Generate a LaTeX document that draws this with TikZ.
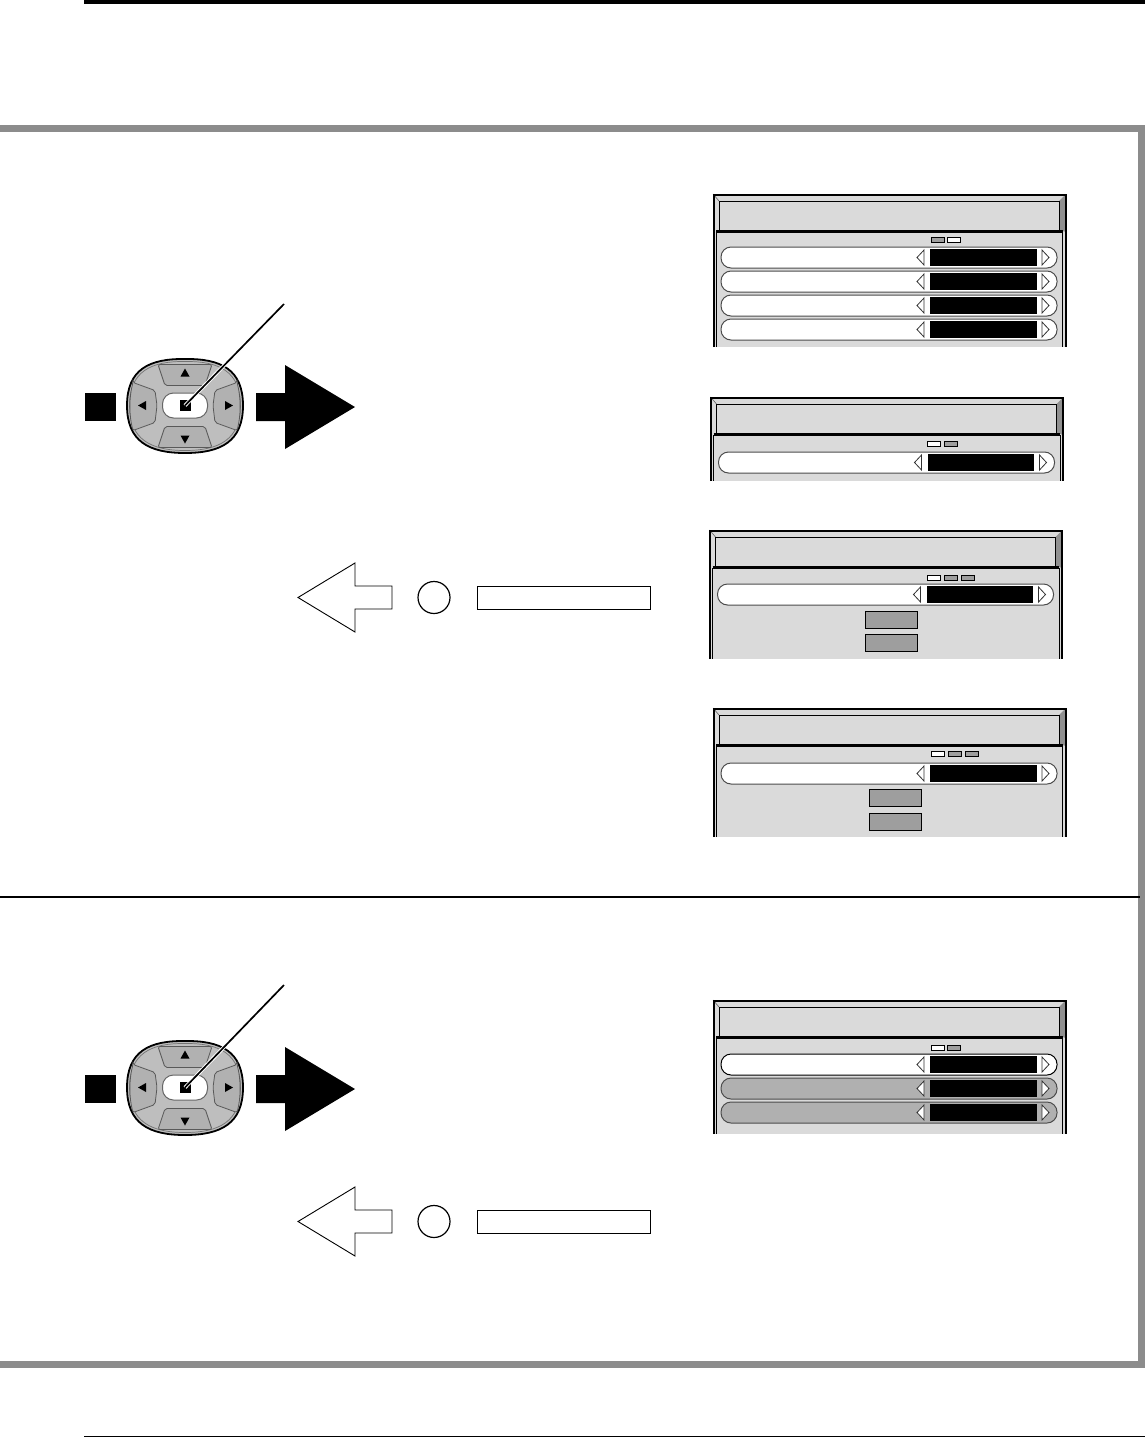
\documentclass[tikz,border=0pt]{standalone}
\usepackage{tikz}
\usetikzlibrary{positioning,arrows.meta,calc}

% Menu screen parts, in local pixels
\newcommand{\osdframe}[1]{%
  \fill[panelgray] (0,0) rectangle (353,#1);
  \fill[bevelgray] (346,7) -- (353,0) -- (353,38) -- (346,36) -- cycle;
  \draw[line width=0.6pt, black!60] (0,0) -- (6,7);
  \draw[line width=1pt, fill=panelgray] (6,7) rectangle (346,36);
  \draw[line width=1pt, fill=panelgray] (3,#1) -- (3,38) -- (349.5,38) -- (349.5,#1);
  \draw[line width=1.6pt] (3,37) -- (349.5,37);
  \draw[line width=2pt] (0.5,#1) -- (0.5,0.5) -- (352.5,0.5) -- (352.5,#1);
}
\newcommand{\osdbar}[3][barline]{%
  \draw[#1, fill=#3, rounded corners=10pt] (8,#2) rectangle (344,#2+21);
  \fill (217,#2+2) rectangle (323.5,#2+19);
  \draw[black!80, line width=0.8pt, fill=white] (204,#2+10.5) -- (211,#2+3) -- (211,#2+18) -- cycle;
  \draw[black!80, line width=0.8pt, fill=white] (336,#2+10.5) -- (329,#2+3) -- (329,#2+18) -- cycle;
}
\newcommand{\osdtag}[3]{\draw[line width=0.8pt, fill=#3] (#1,#2) rectangle (#1+13,#2+5);}
\newcommand{\osdbtn}[1]{\node[btn] at (182,#1+8.5) {};}

% Round key pad, centred on (0,0) of its scope
\newcommand{\keypad}[1]{%
  \draw[line width=1.8pt, fill=padgray] (0,-46.5) .. controls (36,-47) and (58,-36) .. (58,0)
    .. controls (58,36) and (36,47.5) .. (0,47.5) .. controls (-36,47.5) and (-58,36) .. (-58,0)
    .. controls (-58,-36) and (-36,-47) .. (0,-46.5) -- cycle;
  \draw[black!55, line width=0.7pt] (0,-44) .. controls (34,-44.5) and (55.5,-34) .. (55.5,0)
    .. controls (55.5,34) and (34,45) .. (0,45) .. controls (-34,45) and (-55.5,34) .. (-55.5,0)
    .. controls (-55.5,-34) and (-34,-44.5) .. (0,-44) -- cycle;
  \draw[padkey, rounded corners=2pt] (-27,-41) -- (27,-41) -- (20,-20) -- (-20,-20) -- cycle;
  \draw[padkey, rounded corners=2pt] (-27,42) -- (27,42) -- (20,21) -- (-20,21) -- cycle;
  \draw[padkey, rounded corners=2pt] (-52,-23) -- (-30,-15) -- (-28,0) -- (-30,17) -- (-52,25) .. controls (-56,10) and (-56,-8) .. (-52,-23) -- cycle;
  \draw[padkey, rounded corners=2pt] (52,-23) -- (30,-15) -- (28,0) -- (30,17) -- (52,25) .. controls (56,10) and (56,-8) .. (52,-23) -- cycle;
  \fill (0,-37) -- (4.5,-29) -- (-4.5,-29) -- cycle;
  \fill (0,38) -- (4.5,30) -- (-4.5,30) -- cycle;
  \fill (-47,0) -- (-39,-4.5) -- (-39,4.5) -- cycle;
  \fill (48,0) -- (40,-4.5) -- (40,4.5) -- cycle;
  \node[padok] (ok#1) at (0,0) {};
  \node[padmark] (mark#1) at (0,0) {};
}

\begin{document}
\begin{tikzpicture}[
  x=1pt, y=-1pt,
  btn/.style={draw, line width=0.8pt, fill=keygray, minimum width=52pt, minimum height=17pt, inner sep=0pt},
  padok/.style={draw=black!60, line width=1pt, fill=white, rounded corners=11pt, minimum width=45pt, minimum height=25pt, inner sep=0pt},
  padmark/.style={fill=black, minimum width=11pt, minimum height=11pt, inner sep=0pt},
  padkey/.style={draw=black!65, line width=0.8pt, fill=keygray!80},
  keybox/.style={fill=black, minimum width=31pt, minimum height=28pt, inner sep=0pt},
  namebox/.style={draw, line width=0.8pt, minimum width=173pt, minimum height=23pt, inner sep=0pt},
  rbtn/.style={circle, draw, line width=1.2pt, minimum size=32pt, inner sep=0pt},
  barline/.style={draw=black!70, line width=1pt},
  barsel/.style={draw=black, line width=1pt},
]
\definecolor{panelgray}{HTML}{DADADA}
\definecolor{bevelgray}{HTML}{909090}
\definecolor{keygray}{HTML}{9E9E9E}
\definecolor{padgray}{HTML}{BEBEBE}
\definecolor{bargray}{HTML}{B0B0B0}
\definecolor{framegray}{HTML}{8C8C8C}
\useasboundingbox (0,0) rectangle (1145,1437);

% Page rules and frame
\fill (84,0) rectangle (1145,4);
\fill (84,1435.5) rectangle (1145,1437);
\draw[framegray, line width=7pt] (0,128.5) -- (1141.5,128.5) -- (1141.5,1364) -- (0,1364);
\draw[line width=1.4pt] (0,897) -- (1140,897);

% Key pads
\node[keybox] (key1) at (100.5,407) {};
\begin{scope}[shift={(185,405.5)}]
  \keypad{1}
\end{scope}
\coordinate (lead1) at (284,304);
\draw[white, line width=3.6pt] (lead1) -- (mark1.center);
\draw[line width=1.7pt] (lead1) -- (mark1.center);
\fill (256,393) -- (285,393) -- (285,365) -- (355,407) -- (285,449) -- (285,421) -- (256,421) -- cycle;

\node[keybox] (key2) at (100.5,1089) {};
\begin{scope}[shift={(185,1087.5)}]
  \keypad{2}
\end{scope}
\coordinate (lead2) at (284,985);
\draw[white, line width=3.6pt] (lead2) -- (mark2.center);
\draw[line width=1.7pt] (lead2) -- (mark2.center);
\fill (256,1075) -- (285,1075) -- (285,1047) -- (355,1089) -- (285,1131) -- (285,1103) -- (256,1103) -- cycle;

% Return arrows
\foreach \n/\yy in {1/597.5, 2/1221.5} {
  \draw[line width=0.9pt, fill=white] (298,\yy) -- (355,\yy-34.5) -- (355,\yy-11.5) -- (392,\yy-11.5)
    -- (392,\yy+11.5) -- (355,\yy+11.5) -- (355,\yy+34.5) -- cycle;
  \node[rbtn] (ret\n) at (434,\yy) {};
  \node[namebox] (name\n) at (563.5,\yy) {};
}

% Screens
\begin{scope}[shift={(713,194)}]
  \osdframe{153}
  \osdtag{218}{43}{keygray} \osdtag{234}{43}{white}
  \foreach \yy in {53,77,101,125} {\osdbar{\yy}{white}}
\end{scope}

\begin{scope}[shift={(710.5,397)}]
  \osdframe{84}
  \osdtag{217}{44}{white} \osdtag{234}{44}{keygray}
  \osdbar{55}{white}
\end{scope}

\begin{scope}[shift={(709.5,530)}]
  \osdframe{129}
  \osdtag{218}{45}{white} \osdtag{235}{45}{keygray} \osdtag{252}{45}{keygray}
  \osdbar{54}{white}
  \osdbtn{81} \osdbtn{104}
\end{scope}

\begin{scope}[shift={(713,708)}]
  \osdframe{129}
  \osdtag{218}{43}{white} \osdtag{235}{43}{keygray} \osdtag{252}{43}{keygray}
  \osdbar{55}{white}
  \osdbtn{81} \osdbtn{105}
\end{scope}

\begin{scope}[shift={(713,1000)}]
  \osdframe{134}
  \osdtag{218}{45}{white} \osdtag{234}{45}{keygray}
  \osdbar[barsel]{54}{white}
  \osdbar{78}{bargray}
  \osdbar{102}{bargray}
\end{scope}
\end{tikzpicture}
\end{document}
